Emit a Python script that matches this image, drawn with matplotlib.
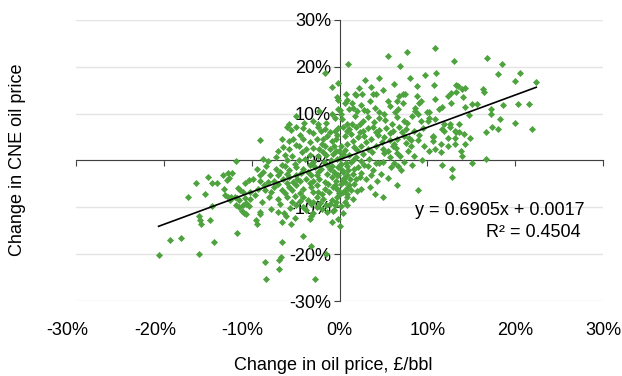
import numpy as np
import matplotlib.pyplot as plt
from matplotlib.transforms import ScaledTranslation

plt.rcParams['font.family'] = ['Liberation Sans', 'DejaVu Sans']

# monthly change in oil price (£/bbl) vs change in CNE oil price, in %
oil_change = [
    # upper right
    10.9, 13.0, 16.8, 18.5, 11.0, 18.1, 20.5, 10.8, 13.3, 13.5, 20.0, 22.4, 14.3, 14.0,
    16.3, 16.4, 13.3, 12.7, 12.3, 10.9, 14.1, 12.7, 11.7, 11.3, 14.3, 15.1, 15.6, 20.3,
    21.6, 17.3, 18.6, 17.3, 10.2, 10.9, 10.2, 18.3, 20.0, 14.8, 13.6, 11.9, 12.6,
    11.7, 11.9, 12.6, 13.1, 13.3, 13.6, 10.6, 10.7, 14.2, 14.9, 12.3, 13.2, 10.6, 11.6,
    12.3, 13.2, 14.3, 10.9, 11.6, 13.8, 13.9, 10.2, 16.7, 17.4, 18.0, 21.9, 16.7, 11.7,
    12.8, 12.8, 15.1,
    # upper middle
    5.5, 7.7, 1.0, 6.9, 4.5, 9.7, 3.6, 8.8, 0.7, 1.8, 1.9, 2.6, 3.8, 4.1, 7.2, 7.5, 6.8,
    6.6, 8.8, 5.5, 9.3, 0.6, 1.4, 1.5, 2.4, 4.0, 7.2, 9.1, 8.6, 0.0, 1.1, 2.0, 2.8, 3.1,
    4.5, 5.1, 6.3, 6.7, 8.6, 8.9, 10.0, 0.2, 3.2, 4.5, 7.4, 7.7, 9.3, 0.8, 1.4, 2.3, 3.9,
    6.0, 10.1,
    0.3, 1.8, 2.7, 5.2, 6.5, 8.2, 5.8, 3.5, 0.9, 2.2, 5.0, 6.2, 2.9, 8.0,
    -1.6, -0.2, -0.8, -0.3, -0.2, -2.3, -0.8, -0.2, -4.9, -5.8, -3.0, -1.5, -0.5, -2.5, -4.0,
    # lower left
    -11.8, -15.0, -16.3, -14.5, -13.9, -13.3, -12.7, -12.2, -12.8, -12.6, -10.3, -10.8,
    -11.5, -13.1, -15.3, -17.2, -13.0, -12.7, -12.3, -12.5, -11.9, -11.7, -11.4, -11.3,
    -11.0, -10.8, -10.6, -10.2, -11.8, -11.4, -11.0, -10.6, -10.3, -14.5,
    -16.0, -15.9, -15.8, -14.7, -11.7, -19.3, -18.0, -14.3, -20.6, -16.0, -11.1, -10.9, -10.7,
    -9.1, -9.0, -9.5, -9.4, -7.0, -6.3, -6.1, -6.5, -5.5, -5.1, -3.4, -3.2, -3.0, -1.4,
    -0.8, -4.2, -6.5, -3.2, -6.7, -6.9, -8.5, -1.5, -6.9, -8.4, -2.8,
    # core, left of zero
    -6.0, -5.5, -4.9, -4.1, -3.5, -2.4, -2.1, -1.6, -1.1, -0.5, -0.2,
    -9.1, -6.6, -5.7, -5.3, -4.1, -3.4, -2.6, -1.9, -0.9, -0.4,
    -6.4, -5.7, -4.6, -3.8, -3.0, -2.3, -1.6, -1.1,
    -8.7, -8.1, -7.2, -6.2, -5.4, -2.4, -1.5, -0.7, -0.3,
    -9.4, -8.7, -7.9, -7.2, -6.8, -6.2, -5.7, -4.9, -4.1, -3.6, -2.8, -2.1, -1.1, -0.6, -0.2,
    -9.8, -9.1, -8.1, -7.5, -6.4, -5.7, -5.3, -4.5, -3.8, -3.0, -2.3, -1.7, -0.9, -0.4,
    -10.2, -9.3, -8.5, -7.5, -6.6, -5.8, -4.9, -4.1, -3.2, -2.4, -1.7, -0.7, -0.2,
    -8.0, -7.0, -6.0, -5.1, -4.1, -3.6, -2.6, -1.9, -0.9, -0.3,
    -4.9, -4.1, -3.2, -2.6, -1.5, -0.5,
    -4.5, -3.0, -1.4, -0.3, -5.0, -2.0, -0.6, -7.0, -4.3, -3.4, -1.9, -0.4, -6.0, -4.6,
    -3.9, -3.0, -1.8, -1.0, -8.4, -6.6, -5.1, -3.4, -2.4, -1.4, -0.8, -9.0, -7.0, -6.0,
    -5.0, -4.4, -3.2, -2.6, -1.4, -0.3, -8.6, -7.0, -6.0, -4.8, -3.4, -2.6, -1.3, -0.5,
    -9.6, -7.8, -6.2, -5.4, -4.5, -3.0, -2.0, -1.2, -0.1, -8.8, -6.8, -5.4, -4.5, -3.0,
    -2.2, -1.1, -0.7, -2.0, -3.8, -5.6, -7.8,
    # core, right of zero
    0.4, 1.1, 1.9, 2.7, 3.2, 3.8, 4.5, 5.3, 6.1, 6.8, 7.6, 8.5, 9.5,
    0.6, 1.3, 2.1, 2.8, 3.6, 4.4, 5.1, 5.7, 6.6, 7.4, 8.1, 8.9,
    0.2, 0.9, 1.7, 2.5, 3.2, 4.2, 4.9, 5.5, 6.1, 6.4, 7.6, 8.1,
    0.4, 1.1, 1.9, 2.7, 3.4, 4.5, 4.9, 5.7, 6.9, 7.8, 9.4,
    0.2, 0.8, 1.3, 2.1, 2.8, 3.8, 4.7, 5.9, 6.7, 7.0, 7.4,
    0.4, 0.9, 1.5, 2.3, 3.0, 5.5,
    0.6, 1.1, 1.7, 2.5, 6.5,
    0.4, 0.9, 1.3, 4.0, 4.9, 8.9,
    0.8, 0.6, 0.9,
    0.8, 2.3, 4.1, 5.8, 7.1, 9.0, 1.5, 3.0, 4.8, 6.2, 7.9, 9.6, 0.6, 2.0, 3.7, 5.1, 6.6,
    8.5, 1.5, 2.4, 3.2, 4.1, 6.2, 8.2, 1.6, 2.5, 3.6, 4.3, 1.9, 2.0, 3.5, 1.5, 0.4,
    # strip along zero
    0.1, 0.3, -0.2, 0.5, 0.2, -0.3, 0.6, 0.1, -0.1, 0.3, 0.7, 1.0, 1.2, 0.9, 0.0, -0.4,
    0.2, -0.6, 0.4, -0.2, 0.1,
]

cne_change = [
    24.1, 21.2, 21.8, 20.7, 18.6, 18.4, 18.6, 16.2, 16.2, 15.9, 16.9, 16.7, 15.4, 15.2,
    15.2, 14.7, 14.7, 14.5, 13.7, 13.2, 13.5, 12.2, 11.5, 11.1, 11.5, 12.0, 12.0, 12.0,
    12.0, 11.1, 11.8, 10.0, 10.3, 8.8, 9.0, 8.8, 8.1, 9.8, 7.9, 7.7, 7.7,
    6.8, 6.4, 7.1, 6.4, 6.0, 6.0, 5.3, 5.1, 5.6, 4.9, 4.7, 4.9, 4.1, 3.6,
    3.0, 3.6, 3.6, 2.4, 1.9, 2.1, 0.9, 2.1, 6.0, 7.1, 6.8, 6.8, 0.4, -0.9,
    -1.9, -3.6, -0.6,
    22.4, 23.1, 20.5, 20.1, 17.7, 18.2, 15.6, 16.0, 14.3, 14.3, 13.9, 14.3, 14.1, 14.1, 14.3,
    14.1, 13.7, 12.8, 13.7, 12.6, 12.8, 12.2, 12.2, 11.3, 11.8, 11.3, 12.2, 12.2, 11.3, 10.7,
    11.1, 10.5, 10.7, 10.5, 10.3, 10.0, 10.3, 10.9, 10.5, 10.0, 10.3, 10.0, 9.2, 9.0, 8.5,
    8.1, 8.5, 7.9, 7.9, 7.7, 8.3, 7.9, 8.5,
    8.8, 9.4, 8.4, 8.6, 9.2, 9.4, 11.6, 12.6, 13.0, 15.4, 15.0, 16.3, 17.2, 17.6,
    18.6, 16.5, 15.6, 13.5, 13.0, 10.5, 10.0, 11.1, 9.4, 7.7, 8.5, 8.0, 9.0, 7.8, 8.0,
    -0.2, -3.6, -4.7, -4.7, -4.7, -3.0, -2.6, -2.6, -4.1, -3.8, -4.1, -4.9,
    -5.8, -6.0, -7.1, -7.9, -7.3, -7.9, -7.7, -8.5, -7.9, -8.1, -8.5, -6.4,
    -6.8, -8.1, -9.0, -8.3, -9.6, -10.0, -9.6, -9.2, -9.8, -9.8,
    -11.8, -12.8, -13.5, -12.8, -15.4, -16.9, -16.5, -17.5, -20.1, -19.9, -10.7, -11.3, -11.5,
    -11.1, -11.5, -12.8, -13.5, -11.1, -11.3, -11.8, -13.2, -13.5, -12.2, -12.4, -11.8, -11.3, -11.1,
    -13.2, -16.2, -17.5, -18.2, -20.7, -21.2, -21.6, -19.9, -23.1, -25.4, -25.2,
    7.1, 6.6, 7.1, 6.9, 6.4, 7.1, 6.2, 6.8, 6.1, 6.2, 6.9,
    4.3, 4.6, 4.1, 4.5, 4.6, 3.9, 4.5, 4.6, 4.1, 4.6,
    2.9, 2.5, 3.1, 2.4, 2.6, 2.5, 3.2, 2.4,
    0.4, -0.2, 0.7, 1.1, 0.9, 0.9, 1.1, 1.4, 0.4,
    -1.8, -2.5, -3.2, -1.8, -2.5, -1.1, -2.1, -1.4, -1.8, -2.5, -1.4, -1.8, -1.8, -2.5, -1.4,
    -3.9, -4.3, -4.6, -4.3, -3.9, -3.5, -4.6, -4.3, -3.9, -4.3, -3.9, -4.6, -3.5, -4.3,
    -6.7, -6.0, -6.4, -5.7, -6.4, -5.7, -5.3, -6.0, -5.7, -6.7, -6.0, -5.7, -6.4,
    -7.8, -8.2, -7.8, -7.5, -7.8, -8.5, -7.8, -8.2, -8.5, -7.8,
    -9.6, -9.9, -9.2, -9.9, -9.6, -9.6,
    5.5, 5.8, 5.2, 5.5, 3.4, 3.6, 3.0, 2.0, 1.8, 1.2, 1.8, 2.0, 0.2, 0.0,
    0.4, -0.3, -0.4, 0.2, -1.2, -1.0, -0.7, -0.9, -2.4, -1.0, -1.2, -3.0, -3.2, -2.8,
    -3.0, -2.6, -3.1, -3.2, -2.8, -3.1, -5.2, -5.0, -4.8, -4.0, -4.8, -5.2, -5.0, -5.2,
    -7.4, -6.8, -7.0, -6.4, -7.0, -6.8, -7.2, -6.8, -7.0, -8.8, -9.2, -8.8, -8.6, -8.9,
    -9.0, -9.2, -10.8, -10.4, -10.6, -10.2, -10.4,
    7.1, 6.8, 7.1, 6.4, 6.9, 7.1, 6.6, 6.9, 6.4, 7.1, 6.8, 6.2, 6.9,
    5.3, 5.7, 5.0, 5.3, 4.6, 5.5, 5.0, 4.3, 4.6, 5.3, 4.3, 4.3,
    3.2, 3.6, 2.9, 3.2, 2.5, 3.2, 2.5, 2.1, 3.1, 2.7, 3.8, 3.2,
    1.4, 1.1, 0.7, 1.4, 0.4, -0.5, -0.3, 0.7, 0.9, 2.1, 0.1,
    -0.7, -1.1, -0.3, -1.4, -0.9, -2.1, -2.8, -1.4, -1.2, -2.1, -0.3,
    -2.5, -3.2, -2.8, -3.5, -4.0, -3.8,
    -4.6, -5.3, -5.0, -6.0, -5.3,
    -6.7, -7.1, -6.4, -7.1, -7.8, -6.4,
    -7.8, -8.9, -9.6,
    6.2, 6.0, 6.0, 5.8, 6.0, 5.5, 4.2, 4.0, 4.0, 3.6, 4.9, 3.0, 2.2, 2.2, 1.8, 1.5, 1.6,
    1.0, 0.2, -0.2, -1.2, -0.6, -0.6, -1.0, -1.8, -2.6, -3.2, -4.4, -4.0, -6.6, -5.6, -8.3, -4.2,
    -1.0, -2.0, -3.0, -3.8, -5.0, -6.0, -6.5, 0.5, 2.0, 1.0, -0.5, -2.0, -4.0, -5.8, -7.2, -8.8,
    -9.8, -10.5, -11.2, -12.5, -14.0,
]

# trendline shown on the chart (in fractions)
slope = 0.6905
intercept = 0.0017

ticks = [-30, -20, -10, 0, 10, 20, 30]

fig = plt.figure(figsize=(6.22, 3.76), dpi=100)
ax = fig.add_axes([76 / 622, 1 - 301 / 376, 527 / 622, 281 / 376])

ax.scatter(oil_change, cne_change, marker='D', s=13, color='#4EA33F',
           linewidths=0, zorder=3)

x_line = np.array([min(oil_change), max(oil_change)])
ax.plot(x_line, slope * x_line + intercept * 100, color='black', lw=1.2, zorder=4)

ax.set_xlim(-30, 30)
ax.set_ylim(-30, 30)
ax.set_xticks(ticks)
ax.set_yticks(ticks)
ax.yaxis.grid(True, color='#e4e4e4', lw=1)
ax.set_axisbelow(True)

for s in ['top', 'right']:
    ax.spines[s].set_visible(False)
ax.spines['left'].set_position('zero')
ax.spines['bottom'].set_position('zero')
ax.spines['left'].set_color('#404040')
ax.spines['bottom'].set_color('#404040')
ax.spines['left'].set_zorder(2)
ax.spines['bottom'].set_zorder(2)

ax.tick_params(axis='x', length=4, color='#404040', labelbottom=False)
ax.tick_params(axis='y', length=4, color='#404040', labelsize=13, pad=2)
ax.set_yticklabels([f'{t}%' for t in ticks])

# x tick labels sit at the bottom of the plot area
sec = ax.secondary_xaxis(0)
sec.set_xticks(ticks)
sec.set_xticklabels([f'{t}%' for t in ticks])
sec.spines['bottom'].set_visible(False)
sec.tick_params(length=0, labelsize=13, pad=15)
for t, lab in zip(ticks, sec.get_xticklabels()):
    if t < 0:
        lab.set_transform(lab.get_transform() + ScaledTranslation(-9 / 100, 0, fig.dpi_scale_trans))

ax.text(27.9, -10.7, 'y = 0.6905x + 0.0017', ha='right', va='center', fontsize=13, zorder=5)
ax.text(27.5, -15.4, 'R² = 0.4504', ha='right', va='center', fontsize=13, zorder=5)

fig.text(333 / 622, 1 - 365 / 376, 'Change in oil price, £/bbl', ha='center', va='center', fontsize=13)
fig.text(18 / 622, 1 - 160 / 376, 'Change in CNE oil price', ha='center', va='center',
         rotation=90, fontsize=13)

fig.savefig('out.png', dpi=100)
